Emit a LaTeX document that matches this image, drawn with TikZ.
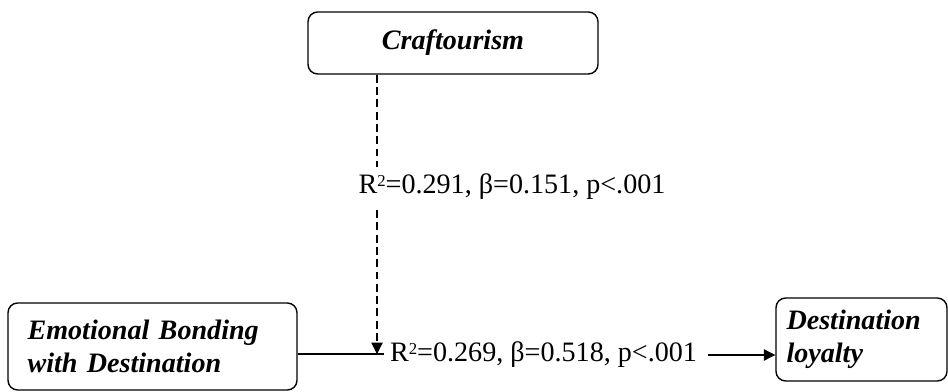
\documentclass[tikz,border=0pt]{standalone}
\usepackage{fontspec}
\setmainfont{Liberation Serif}
\usetikzlibrary{arrows.meta}
\usetikzlibrary{positioning}

\newcommand{\rsq}{R\raisebox{0.6ex}{\fontsize{9.5}{9.5}\selectfont 2}}

\tikzset{
  factor/.style={draw,line width=0.8pt,rounded corners=5.5pt,
    font=\fontsize{16}{18.8}\selectfont\bfseries\itshape},
  stat/.style={font=\fontsize{16}{18.8}\selectfont,inner sep=1pt},
  link/.style={line width=0.6pt},
  tip/.style={-{Triangle[length=6.5pt,width=6.5pt]}}
}

\begin{document}
\begin{tikzpicture}
    \useasboundingbox (0,0) rectangle (18.96,7.82);

    % Boxes
    \node[factor,minimum width=5.8cm,minimum height=1.24cm] (craft) at (9.06,6.96) {Craftourism};
    \node[factor,minimum width=5.78cm,minimum height=1.74cm,align=left,
      text width=5.0cm] (bond) at (3.05,0.89)
      {Emotional Bonding\\with Destination};
    \node[factor,minimum width=3.42cm,minimum height=1.66cm,align=left,
      text width=3.0cm] (loyal) at (17.23,1.03)
      {Destination\\loyalty};

    % Coordinates
    \path (7.68,0.74) coordinate (J)
      (7.54,0.74) coordinate (Jd);

    % Main path
    \draw[link] (bond.east |- J) -- (J);
    \node[stat,anchor=west] (eff) at (7.76,0.72)
      {\rsq=0.269, β=0.518, p<.001};
    \draw[link,tip] ([xshift=5pt]eff.east) -- (eff.east -| loyal.west);

    % Moderation
    \draw[link,tip,dash pattern=on 4.5pt off 2.5pt] (craft.south -| Jd) -- (Jd);
    \node[stat,fill=white,inner xsep=0pt,inner ysep=4pt] (mod) at (10.24,4.08)
      {\rsq=0.291, β=0.151, p<.001};

\end{tikzpicture}
\end{document}
